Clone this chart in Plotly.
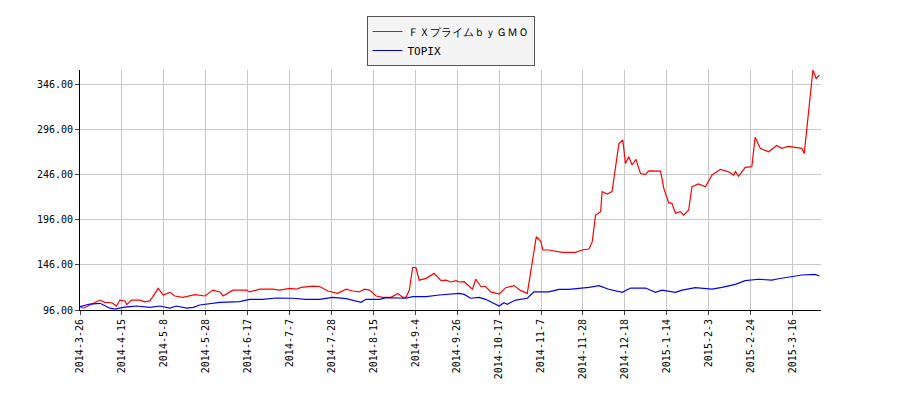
import plotly.graph_objects as go

# trading-day index and values
fx_idx = [0, 1.1, 3.3, 6.7, 8.3, 10.6, 12.2, 13.3, 15, 15.6, 17.2, 20, 21.7, 23.3, 24.4, 26.1, 27.8, 30, 31.7, 34.4,
          38.3, 41.7, 44.4, 46.7, 47.8, 51.1, 55.6, 56.7, 60, 64.4, 66.7, 70, 72.2, 73.9, 77.8, 80, 82.8, 86.1, 88.9, 91.1,
          93.3, 95, 96.7, 98.9, 101.1, 103.9, 106.1, 107.8, 108.9, 110, 111.1, 112.2, 113.3, 115.6, 118.3, 120.6, 122.2,
          123.9, 125.6, 126.7,
          128.3, 131.1, 132.2, 133.9, 135.5, 137.2, 140, 142.2, 145, 147.2, 149.4, 151.1, 152.4, 153.9, 154.6, 156.6,
          161.1, 165.5, 167.7, 170, 171.1, 172.2, 173.9, 174.4, 176.1, 177.7, 178.9, 180, 181.3, 182.2, 183.3, 184.4,
          185.7, 187.2, 188.9, 190, 193.9, 195, 196.6, 197.7, 198.9, 200.5, 201.6, 203.3, 204.4, 206.6, 208.9, 211.1,
          213.9, 216.6, 218.3, 218.9, 220, 222.2, 224.4, 225.5, 227.2, 230, 232.7, 234.4, 236.6, 241.1, 241.9, 242.8,
          243.9, 244.8, 245.9, 247]
fx_val = [99.7, 98, 101.5, 107, 104.5, 104, 100.4, 107, 106, 102, 107, 107, 105, 106, 111, 120, 112.6, 115.5, 111.5, 110,
          113, 111.5, 118, 116, 111.5, 118, 118, 116, 119, 119, 118, 120, 119, 121, 122.5, 122, 117, 114.4, 119, 117,
          116, 119, 118, 111.5, 110, 110, 114.4, 110, 110, 118, 143, 143, 129, 131, 136.5, 128.5, 129,
          127, 128.5, 127,
          127.3, 119, 130, 122, 122, 116, 113.7, 120.7, 123, 117.4, 114.4, 151, 177, 171.6, 162.4, 162.4,
          159.8, 159.8, 162.4, 163.5, 171.6, 201, 204.8, 227, 224.3, 227, 254.5, 280, 284, 258, 265.6, 256.4,
          262.6, 247, 246, 250, 249.7, 230.6, 214.7, 214, 203, 204.8, 201, 206.6, 232.4, 235.4, 232.4, 245.3,
          251.6, 249, 245.3, 249, 244, 253.8, 254.5, 287, 274.8, 271, 278, 274.8, 277, 274.8, 269, 298.8,
          332, 361.5, 352, 356]

topix_idx = [0, 3.3, 6.7, 10, 11.7, 14.4, 16.7, 18.9, 23.3, 26.7, 30, 32.2, 35.6, 37.8, 40, 44.4, 46.7, 53.3, 56.7,
             61.1, 65.5, 71.1, 75.5, 80, 84.4, 88.9, 93.9, 95.5, 100, 102.2, 108.9, 111.1, 115.6, 120, 122.2, 126.7,
             128.3, 130.5, 133.3, 135.5, 140, 141.6, 142.7, 145.5, 149.4, 151.6, 156.6, 160, 163.3, 167.7, 170, 173.3,
             176.6, 181.1, 183.9, 188.9, 192.2, 194.4, 198.9, 201.1, 205.5, 211.1, 214.4, 218.9, 222.2, 226.6, 231.1,
             233.3, 237.7, 241.1, 245.5, 247]
topix_val = [99.7, 102.6, 103.4, 98, 97, 99, 99.7, 100.4, 99, 100.4, 98, 100.4, 98, 99, 101.5, 103.4, 104.5, 105.2, 107.8,
             107.8, 109.3, 109, 107.8, 107.8, 110, 108.5, 104.5, 107.8, 107.8, 109.6, 109, 110.7, 110.7, 112.6, 113.3, 114.4,
             113.3, 109, 110, 107.8, 100.4, 104, 102.3, 107, 109, 116, 116, 118.9, 118.9, 120, 121, 123,
             119, 115.5, 120.3, 120.3, 115.5, 118, 115.5, 118, 120.7, 119.2, 121, 124.4, 128.5, 130, 129,
             130.6, 132.6, 134.7, 135.4, 133.6]

tick_idx = [0, 14, 28, 42, 56, 70, 84, 98, 112, 126, 140, 154, 168, 182, 196, 210, 224, 238]
tick_labels = ["2014-3-26", "2014-4-15", "2014-5-8", "2014-5-28", "2014-6-17", "2014-7-7", "2014-7-28",
               "2014-8-15", "2014-9-4", "2014-9-26", "2014-10-17", "2014-11-7", "2014-11-28", "2014-12-18",
               "2015-1-14", "2015-2-3", "2015-2-24", "2015-3-16"]

fig = go.Figure()
fig.add_trace(go.Scatter(x=fx_idx, y=fx_val, mode="lines", name="ＦＸプライムｂｙＧＭＯ",
                         line=dict(color="#ff0000", width=1.2)))
fig.add_trace(go.Scatter(x=topix_idx, y=topix_val, mode="lines", name="TOPIX",
                         line=dict(color="#0000ff", width=1.2)))

fig.update_layout(
    width=900, height=400,
    margin=dict(l=72, r=87, t=62, b=98, autoexpand=False),
    plot_bgcolor="white", paper_bgcolor="white",
    font=dict(family="DejaVu Sans Mono", size=10, color="#000"),
    legend=dict(x=0.5, xanchor="center", y=1.225, yanchor="top",
                bordercolor="#555", borderwidth=1, bgcolor="#f4f4f4", font=dict(size=11),
                tracegroupgap=0, itemwidth=30),
    showlegend=True,
)
fig.update_xaxes(range=[0, 247.5], tickvals=tick_idx, ticktext=tick_labels, tickangle=-90,
                 showgrid=True, gridcolor="#c8c8c8", showline=True, linecolor="#000",
                 ticks="outside", ticklen=4, zeroline=False, automargin=False)
fig.update_yaxes(range=[96, 361.5], tickvals=[96, 146, 196, 246, 296, 346], tickformat=".2f",
                 showgrid=True, gridcolor="#c8c8c8", showline=True, linecolor="#000",
                 ticks="outside", ticklen=4, zeroline=False, automargin=False)

fig.write_html("out.html")
